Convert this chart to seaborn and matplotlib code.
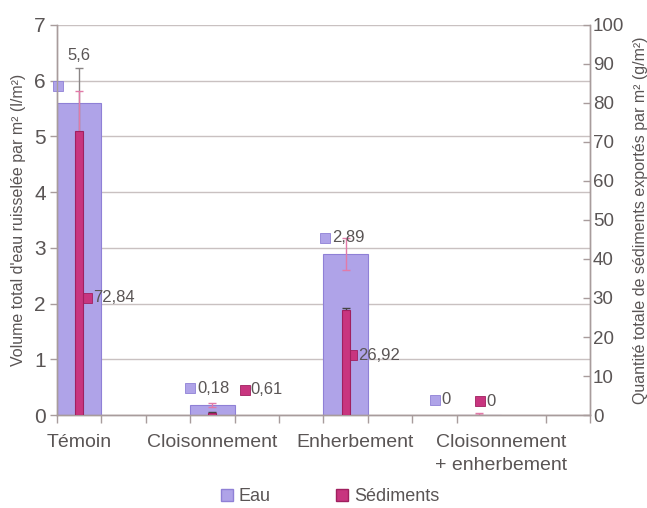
import numpy as np
import pandas as pd
import matplotlib
matplotlib.use("Agg")
import matplotlib.pyplot as plt
from matplotlib.patches import Patch
import seaborn as sns

# Data
categories = ["Témoin", "Cloisonnement", "Enherbement", "Cloisonnement\n+ enherbement"]
eau = [5.6, 0.18, 2.89, 0.0]            # l/m2 (left axis)
sediments = [72.84, 0.61, 26.92, 0.0]   # g/m2 (right axis)
eau_err = [0.63, 0.04, 0.28, 0.0]
sed_err = [10.3, 0.2, 0.4, 0.5]
eau_labels = ["5,6", "0,18", "2,89", "0"]
sed_labels = ["72,84", "0,61", "26,92", "0"]

sns.set_theme(style="white")
plt.rcParams["font.family"] = ["Liberation Sans", "DejaVu Sans"]
plt.rcParams["xtick.direction"] = "out"

txt = "#5a5555"
axc = "#a89c9c"
eau_col = "#afa3e8"
sed_col = "#c8357f"

# each category takes 3 slots on the x axis, bar sits in the first one
pos = [3 * i + 0.5 for i in range(len(categories))]
df = pd.DataFrame({"pos": pos, "eau": eau, "sed": sediments})

fig = plt.figure(figsize=(6.47, 5.08), dpi=100)
ax = fig.add_axes([0.088, 0.183, 0.824, 0.768])
ax2 = ax.twinx()

sns.barplot(data=df, x="pos", y="eau", native_scale=True, width=1 / 3,
            color=eau_col, edgecolor="#8f80d6", linewidth=0.8, saturation=1,
            ax=ax, zorder=2)
sns.barplot(data=df, x="pos", y="sed", native_scale=True, width=0.06,
            color=sed_col, edgecolor="#a0205f", linewidth=0.8, saturation=1,
            ax=ax2, zorder=3)

# error bars
eau_ecol = ["#8a8585", "#e27aa8", "#e27aa8", "#e27aa8"]
sed_ecol = ["#e27aa8", "#444444", "#444444", "#e27aa8"]
for i in range(len(pos)):
    ax.errorbar(pos[i], eau[i], yerr=eau_err[i], fmt="none", ecolor=eau_ecol[i],
                elinewidth=1, capsize=3, zorder=4)
    ax2.errorbar(pos[i], sediments[i], yerr=sed_err[i], fmt="none", ecolor=sed_ecol[i],
                 elinewidth=1, capsize=3, zorder=1)

ax.set_xlim(0, 12)
ax.set_ylim(0, 7)
ax2.set_ylim(0, 100)

ax.set_yticks(range(0, 8))
ax2.set_yticks(range(0, 101, 10))
ax.yaxis.grid(True, color="#c9c1c1", linewidth=1)
ax.set_axisbelow(True)

# category labels and slot tick marks
ax.set_xticks([0.5, 3.5, 6.7, 10.0])
ax.set_xticklabels(categories, fontsize=14, color=txt, linespacing=1.4)
ax.set_xticks(np.arange(0, 13), minor=True)
ax.tick_params(axis="x", which="major", length=0, pad=14, bottom=True)
ax.tick_params(axis="x", which="minor", length=6, width=1, color=axc, direction="out",
               bottom=True)
ax.tick_params(axis="y", length=5, width=1, color=axc, labelsize=15, labelcolor=txt, pad=3,
               left=True)
ax2.tick_params(axis="y", length=5, width=1, color=axc, direction="in",
                labelsize=13.5, labelcolor=txt, pad=2, right=True)

for a in (ax, ax2):
    a.set_xlabel("")
    a.spines["top"].set_visible(False)
    for s in ("left", "right", "bottom"):
        a.spines[s].set_color(axc)
        a.spines[s].set_linewidth(1)

ax.set_ylabel("Volume total d'eau ruisselée par m² (l/m²)", fontsize=11.5, color=txt, labelpad=6)
ax2.set_ylabel("Quantité totale de sédiments exportés par m² (g/m²)", fontsize=11.5,
               color=txt, labelpad=6)

# data labels (square marker + value), positions in left-axis units
eau_lab_x = [0.02, 3.0, 6.03, 8.5]
eau_lab_y = [5.9, 0.48, 3.18, 0.27]
sed_lab_x = [0.68, 4.23, 6.65, 9.53]
sed_lab_y = [2.1, 0.45, 1.07, 0.25]
for i in range(len(pos)):
    ax.plot(eau_lab_x[i], eau_lab_y[i], marker="s", ms=6.5, color=eau_col,
            mec="#8f80d6", mew=0.6, zorder=6, clip_on=False)
    if i == 0:
        ax.text(0.5, 6.45, eau_labels[i], fontsize=12, color=txt, ha="center", va="center", zorder=6)
    else:
        ax.annotate(eau_labels[i], (eau_lab_x[i], eau_lab_y[i]), xytext=(5, 0),
                    textcoords="offset points", fontsize=12, color=txt, va="center", zorder=6)
    ax.plot(sed_lab_x[i], sed_lab_y[i], marker="s", ms=6.5, color=sed_col,
            mec="#a0205f", mew=0.6, zorder=6)
    ax.annotate(sed_labels[i], (sed_lab_x[i], sed_lab_y[i]), xytext=(4, 0),
                textcoords="offset points", fontsize=12, color=txt, va="center", zorder=6)

ax2.set_zorder(ax.get_zorder() + 1)
ax2.patch.set_visible(False)

handles = [Patch(facecolor=eau_col, edgecolor="#8f80d6", label="Eau"),
           Patch(facecolor=sed_col, edgecolor="#a0205f", label="Sédiments")]
fig.legend(handles=handles, loc="center", bbox_to_anchor=(0.51, 0.022), ncol=2,
           frameon=False, fontsize=13, handlelength=0.7, handleheight=0.7,
           handletextpad=0.3, columnspacing=3.6, labelcolor=txt)

fig.savefig("out.png", dpi=100)
